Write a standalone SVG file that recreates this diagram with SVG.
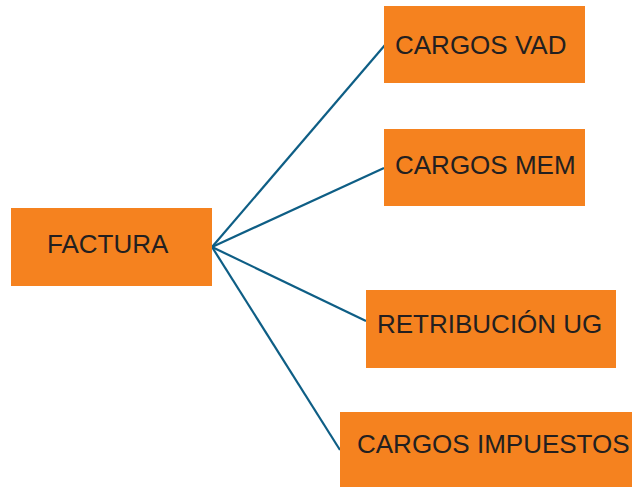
<svg xmlns="http://www.w3.org/2000/svg" width="632" height="487" viewBox="0 0 632 487">
<style>
.box{fill:#F5821F}
.lbl{font-family:"Liberation Sans",Arial,sans-serif;font-size:26px;fill:#231F20}
.con{stroke:#0E5E85;stroke-width:2.2;fill:none}
</style>
<rect width="632" height="487" fill="#FFFFFF"/>
<g id="connectors">
<line class="con" x1="212" y1="247" x2="385" y2="45"/>
<line class="con" x1="212" y1="247" x2="384" y2="168"/>
<line class="con" x1="212" y1="247" x2="366" y2="321"/>
<line class="con" x1="212" y1="247" x2="340" y2="450"/>
</g>
<g id="factura">
<rect class="box" x="11" y="208" width="201" height="78"/>
<text class="lbl" x="47" y="253">FACTURA</text>
</g>
<g id="cargos-vad">
<rect class="box" x="384" y="6" width="201" height="77"/>
<text class="lbl" x="395" y="54">CARGOS VAD</text>
</g>
<g id="cargos-mem">
<rect class="box" x="384" y="129" width="201" height="77"/>
<text class="lbl" x="395" y="174">CARGOS MEM</text>
</g>
<g id="retribucion-ug">
<rect class="box" x="366" y="290" width="250" height="78"/>
<text class="lbl" x="377" y="333">RETRIBUCIÓN UG</text>
</g>
<g id="cargos-impuestos">
<rect class="box" x="340" y="412" width="292" height="75"/>
<text class="lbl" x="357" y="453">CARGOS IMPUESTOS</text>
</g>
</svg>
